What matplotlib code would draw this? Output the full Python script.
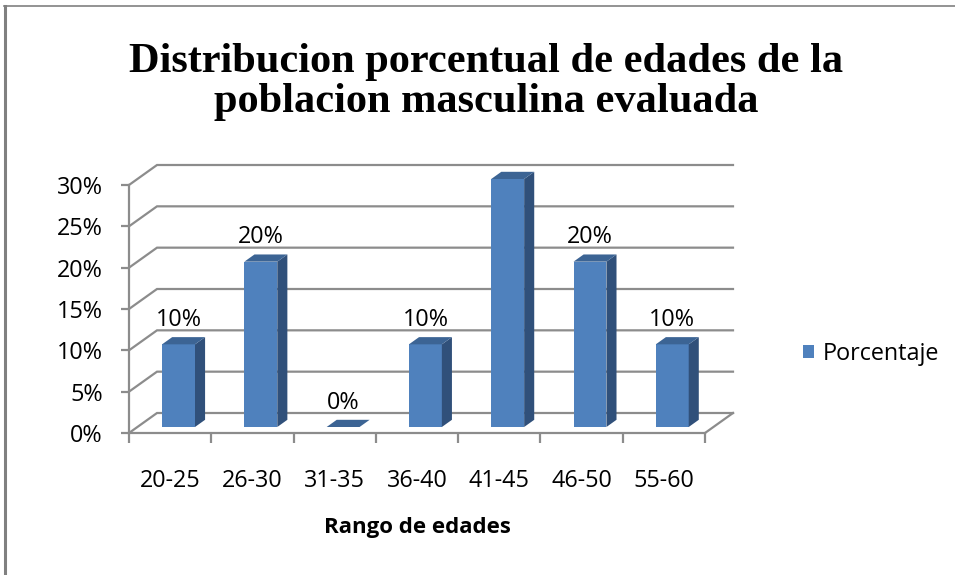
import matplotlib
matplotlib.use('Agg')
import matplotlib.pyplot as plt
from matplotlib.lines import Line2D
from matplotlib.patches import Patch

# ---- data ----
categories = ['20-25', '26-30', '31-35', '36-40', '41-45', '46-50', '55-60']
porcentaje = [10, 20, 0, 10, 30, 20, 10]
y_ticks = [0, 5, 10, 15, 20, 25, 30]
y_tick_labels = ['0%', '5%', '10%', '15%', '20%', '25%', '30%']
title_lines = ['Distribucion porcentual de edades de la',
               'poblacion masculina evaluada']
x_label = 'Rango de edades'
series_name = 'Porcentaje'

# ---- style ----
W, H = 955, 575
FRONT = '#4F81BD'
SIDE = '#30507A'
TOP = '#3C6494'
GRID = '#8c8c8c'
LW = 1.6
FONT = 'Open Sans'
FS = 16.8

fig = plt.figure(figsize=(W / 100, H / 100), dpi=100)
fig.patch.set_facecolor('white')

ax = fig.add_axes([129 / W, 1 - 433 / H, 576 / W, 248 / H])
n = len(categories)
ymax = y_ticks[-1]
ax.set_xlim(0, n)
ax.set_ylim(0, ymax)
ax.set_facecolor('none')

# depth offsets (data units) of the back wall
DX = 28 / (576 / n)
DY = 20 / 248 * ymax

for s in ['top', 'right']:
    ax.spines[s].set_visible(False)
for s in ['left', 'bottom']:
    ax.spines[s].set_color(GRID)
    ax.spines[s].set_linewidth(LW)
    ax.spines[s].set_zorder(3)

# back wall gridlines + side wall diagonals
for t in y_ticks:
    ax.plot([0, DX, n + DX], [t, t + DY, t + DY], color=GRID, lw=LW,
            clip_on=False, zorder=1, solid_joinstyle='miter')
# floor right edge
ax.plot([n, n + DX], [0, DY], color=GRID, lw=LW, clip_on=False, zorder=1)

# ticks
ax.set_yticks(y_ticks)
ax.set_yticklabels(y_tick_labels, fontfamily=FONT, fontsize=FS)
ax.tick_params(axis='y', length=6, width=LW, color=GRID, pad=13)
ax.set_xticks(range(n + 1))
ax.set_xticklabels([''] * (n + 1))
ax.tick_params(axis='x', which='major', length=7, width=LW, color=GRID)
ax.set_xticks([i + 0.5 for i in range(n)], minor=True)
ax.set_xticklabels(categories, minor=True, fontfamily=FONT, fontsize=FS)
ax.tick_params(axis='x', which='minor', length=0, pad=26)

# 3D bars
bw = 0.40
off = 0.30
bd = 0.36
x0s = [i + 0.5 - bw / 2 + off * DX for i in range(n)]
y0 = off * DY
bars = [v if v > 0 else 0 for v in porcentaje]
ax.bar(x0s, bars, width=bw, bottom=y0, align='edge', color=FRONT,
       zorder=4, clip_on=False, linewidth=0)
for x0, v in zip(x0s, porcentaje):
    ddx, ddy = bd * DX, bd * DY
    if v > 0:
        ax.fill([x0 + bw, x0 + bw + ddx, x0 + bw + ddx, x0 + bw],
                [y0, y0 + ddy, y0 + v + ddy, y0 + v],
                color=SIDE, zorder=4, clip_on=False, lw=0)
    ax.fill([x0, x0 + bw, x0 + bw + ddx, x0 + ddx],
            [y0 + v, y0 + v, y0 + v + ddy, y0 + v + ddy],
            color=TOP, zorder=4, clip_on=False, lw=0)
    ax.annotate(f'{v}%', xy=(x0 + bw / 2, y0 + v + ddy), xytext=(0, 8),
                textcoords='offset points', ha='center', va='baseline',
                fontfamily=FONT, fontsize=FS, zorder=5)

ax.set_xlabel(x_label, fontfamily=FONT, fontsize=16, fontweight='bold',
              labelpad=17)

ax.legend(handles=[Patch(facecolor=FRONT, label=series_name)],
          loc='center left', bbox_to_anchor=(803 / W, 1 - 354 / H),
          bbox_transform=fig.transFigure, frameon=False,
          handlelength=0.45, handleheight=0.45, handletextpad=0.38,
          borderpad=0, borderaxespad=0,
          prop={'family': FONT, 'size': FS})

# title
fig.text(486 / W, 1 - 72 / H, title_lines[0], ha='center', va='baseline',
         fontfamily='Liberation Serif', fontweight='bold', fontsize=30.5)
fig.text(486 / W, 1 - 112 / H, title_lines[1], ha='center', va='baseline',
         fontfamily='Liberation Serif', fontweight='bold', fontsize=30.5)

# chart border (left and top)
fig.add_artist(Line2D([5 / W, 5 / W], [0, 1 - 6 / H], color='#808080',
                      lw=2.2, transform=fig.transFigure))
fig.add_artist(Line2D([4 / W, 1], [1 - 6 / H, 1 - 6 / H], color='#808080',
                      lw=1.2, transform=fig.transFigure))

fig.savefig('out.png', dpi=100, facecolor='white')
